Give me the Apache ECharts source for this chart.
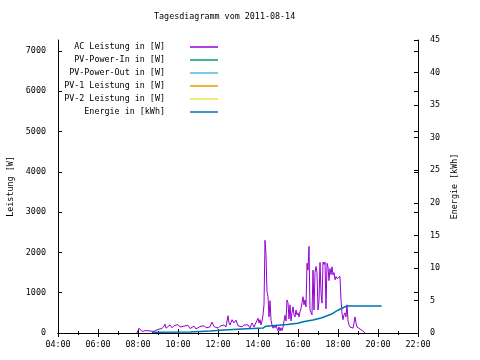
<!DOCTYPE html>
<html><head><meta charset="utf-8">
<script src="https://cdn.jsdelivr.net/npm/echarts@6/dist/echarts.min.js"></script>
<style>html,body{margin:0;padding:0;background:#fff}#c{width:480px;height:360px}</style>
</head><body><div id="c"></div>
<script>
const titleText = 'Tagesdiagramm vom 2011-08-14';
const seriesNames = ['AC Leistung in [W]','PV-Power-In in [W]','PV-Power-Out in [W]','PV-1 Leistung in [W]','PV-2 Leistung in [W]','Energie in [kWh]'];
const seriesColors = ['#9400d3','#009e73','#56b4e9','#e69f00','#f0e442','#0072b2'];
const xTicks = [4,6,8,10,12,14,16,18,20,22];
const acTimes = [7.95,8.0,8.05,8.1,8.2,8.3,8.4,8.5,8.6,8.7,8.8,8.9,9.0,9.1,9.2,9.3,9.35,9.4,9.5,9.6,9.7,9.8,9.9,10.0,10.1,10.2,10.3,10.4,10.5,10.6,10.7,10.8,10.9,11.0,11.1,11.2,11.3,11.4,11.5,11.6,11.7,11.8,11.9,12.0,12.1,12.2,12.3,12.4,12.5,12.55,12.6,12.7,12.8,12.9,13.0,13.1,13.2,13.3,13.4,
13.5,13.6,13.7,13.8,13.9,14.0,14.05,14.1,14.15,14.2,14.25,14.3,14.35,14.4,14.45,14.5,14.55,14.6,14.65,14.7,14.75,14.8,14.85,14.9,14.95,15.0,15.05,15.1,15.15,15.2,15.25,15.3,15.35,15.4,15.45,15.5,15.55,15.6,15.65,15.7,15.75,15.8,15.85,15.9,15.95,16.0,16.05,16.1,16.15,16.2,16.25,16.3,16.35,16.4,16.45,16.5,16.55,16.6,16.65,16.7,16.75,16.8,16.85,16.9,16.95,17.0,17.05,17.1,17.15,17.2,17.25,17.3,17.35,17.4,17.45,17.5,17.55,17.6,17.65,17.7,17.75,17.8,17.85,17.9,17.95,18.0,18.05,18.1,18.15,18.2,18.25,18.3,18.35,18.4,18.45,18.5,18.55,18.6,18.65,18.7,18.75,18.8,18.85,18.9,18.95,19.0,19.05,19.1,19.15,19.2,19.25,19.3,19.35];
const acWatts = [0,60,120,90,40,80,60,90,50,70,40,60,90,130,110,170,220,120,160,200,130,180,140,210,150,120,170,130,190,110,150,170,100,140,160,120,180,130,110,150,270,160,200,120,170,130,200,150,430,250,200,330,250,320,180,220,150,200,170,
200,130,250,150,180,370,250,330,200,300,450,700,2300,1950,1025,900,400,800,320,200,120,180,130,200,120,60,150,50,130,60,140,150,440,300,820,750,350,700,300,500,650,450,400,570,450,500,400,530,600,750,900,700,820,650,1730,1560,2150,570,600,450,1560,570,1500,1650,1500,570,800,1750,1000,740,1760,1700,1760,600,1730,1640,1300,1600,1450,1640,1440,1500,1320,1400,1350,1360,1380,1400,820,500,330,450,500,400,700,300,200,150,130,150,120,250,400,250,150,130,140,100,80,60,50,20,0];
const energyTimes = [8.7,10.6,11.6,12.3,13.45,14.25,14.4,15.0,15.45,16.0,16.25,16.75,17.2,17.65,18.0,18.3,18.45,20.18];
const energyKWh = [0.1,0.15,0.3,0.45,0.65,0.75,1.05,1.2,1.3,1.5,1.74,2.0,2.35,2.87,3.5,3.95,4.15,4.15];

const FONT = 'DejaVu Sans Mono';
const zip = (a,b) => a.map((v,i)=>[v,b[i]]);
const fmtHour = v => (v<10?'0':'') + v + ':00';

const chart = echarts.init(document.getElementById('c'), null, {renderer:'canvas'});
const baseX = {
  type:'value', min:xTicks[0], max:xTicks[xTicks.length-1], interval:2,
  axisLine:{show:true, lineStyle:{color:'#000', width:1}},
  axisTick:{show:true, inside:true, length:4, lineStyle:{color:'#000'}},
  minorTick:{show:true, splitNumber:2, length:2, lineStyle:{color:'#000'}},
  splitLine:{show:false}
};
const series = seriesNames.map((n,i)=>({
  name:n, type:'line', showSymbol:false, symbol:'none', animation:false,
  yAxisIndex: i===5 ? 1 : 0,
  lineStyle:{color:seriesColors[i], width: i===5 ? 1.5 : 1},
  itemStyle:{color:seriesColors[i]},
  data: i===0 ? zip(acTimes, acWatts) : (i===5 ? zip(energyTimes, energyKWh) : [])
}));
chart.setOption({
  animation:false,
  backgroundColor:'#fff',
  title:{text:titleText, left:154, top:13, padding:0,
    textStyle:{fontFamily:FONT, fontSize:8.4, fontWeight:'normal', color:'#000'}},
  legend:{
    data:seriesNames, orient:'vertical', align:'right', right:262, top:42, padding:0,
    itemGap:3, itemWidth:28, itemHeight:1.5, icon:'rect',
    textStyle:{fontFamily:FONT, fontSize:8.4, color:'#000', lineHeight:10, padding:[0,20,0,0]}
  },
  grid:{left:58, right:62, top:40, bottom:27, containLabel:false, outerBoundsMode:'none'},
  xAxis:[
    Object.assign({}, baseX, {position:'bottom',
      axisLabel:{show:true, formatter:fmtHour, margin:8, fontFamily:FONT, fontSize:8.4, color:'#000'}}),
    Object.assign({}, baseX, {position:'top', axisLabel:{show:false}})
  ],
  yAxis:[
    {type:'value', min:0, max:7270, interval:1000, position:'left',
     name:'Leistung [W]', nameLocation:'middle', nameRotate:90, nameGap:43,
     nameTextStyle:{fontFamily:FONT, fontSize:8.4, color:'#000'},
     axisLine:{show:true, lineStyle:{color:'#000'}},
     axisTick:{show:true, inside:true, length:4, lineStyle:{color:'#000'}},
     axisLabel:{showMaxLabel:false, formatter:v=>String(v), margin:12, fontFamily:FONT, fontSize:8.4, color:'#000'},
     splitLine:{show:false}},
    {type:'value', min:0, max:45, interval:5, position:'right',
     name:'Energie [kWh]', nameLocation:'middle', nameRotate:90, nameGap:31,
     nameTextStyle:{fontFamily:FONT, fontSize:8.4, color:'#000'},
     axisLine:{show:true, lineStyle:{color:'#000'}},
     axisTick:{show:true, inside:true, length:4, lineStyle:{color:'#000'}},
     axisLabel:{margin:12, fontFamily:FONT, fontSize:8.4, color:'#000'},
     splitLine:{show:false}},
    {type:'value', min:0, max:7270, interval:1000, position:'right',
     axisLine:{show:false},
     axisTick:{show:true, inside:true, length:4, lineStyle:{color:'#000'}},
     axisLabel:{show:false}, splitLine:{show:false}}
  ],
  series: series
});
</script></body></html>
